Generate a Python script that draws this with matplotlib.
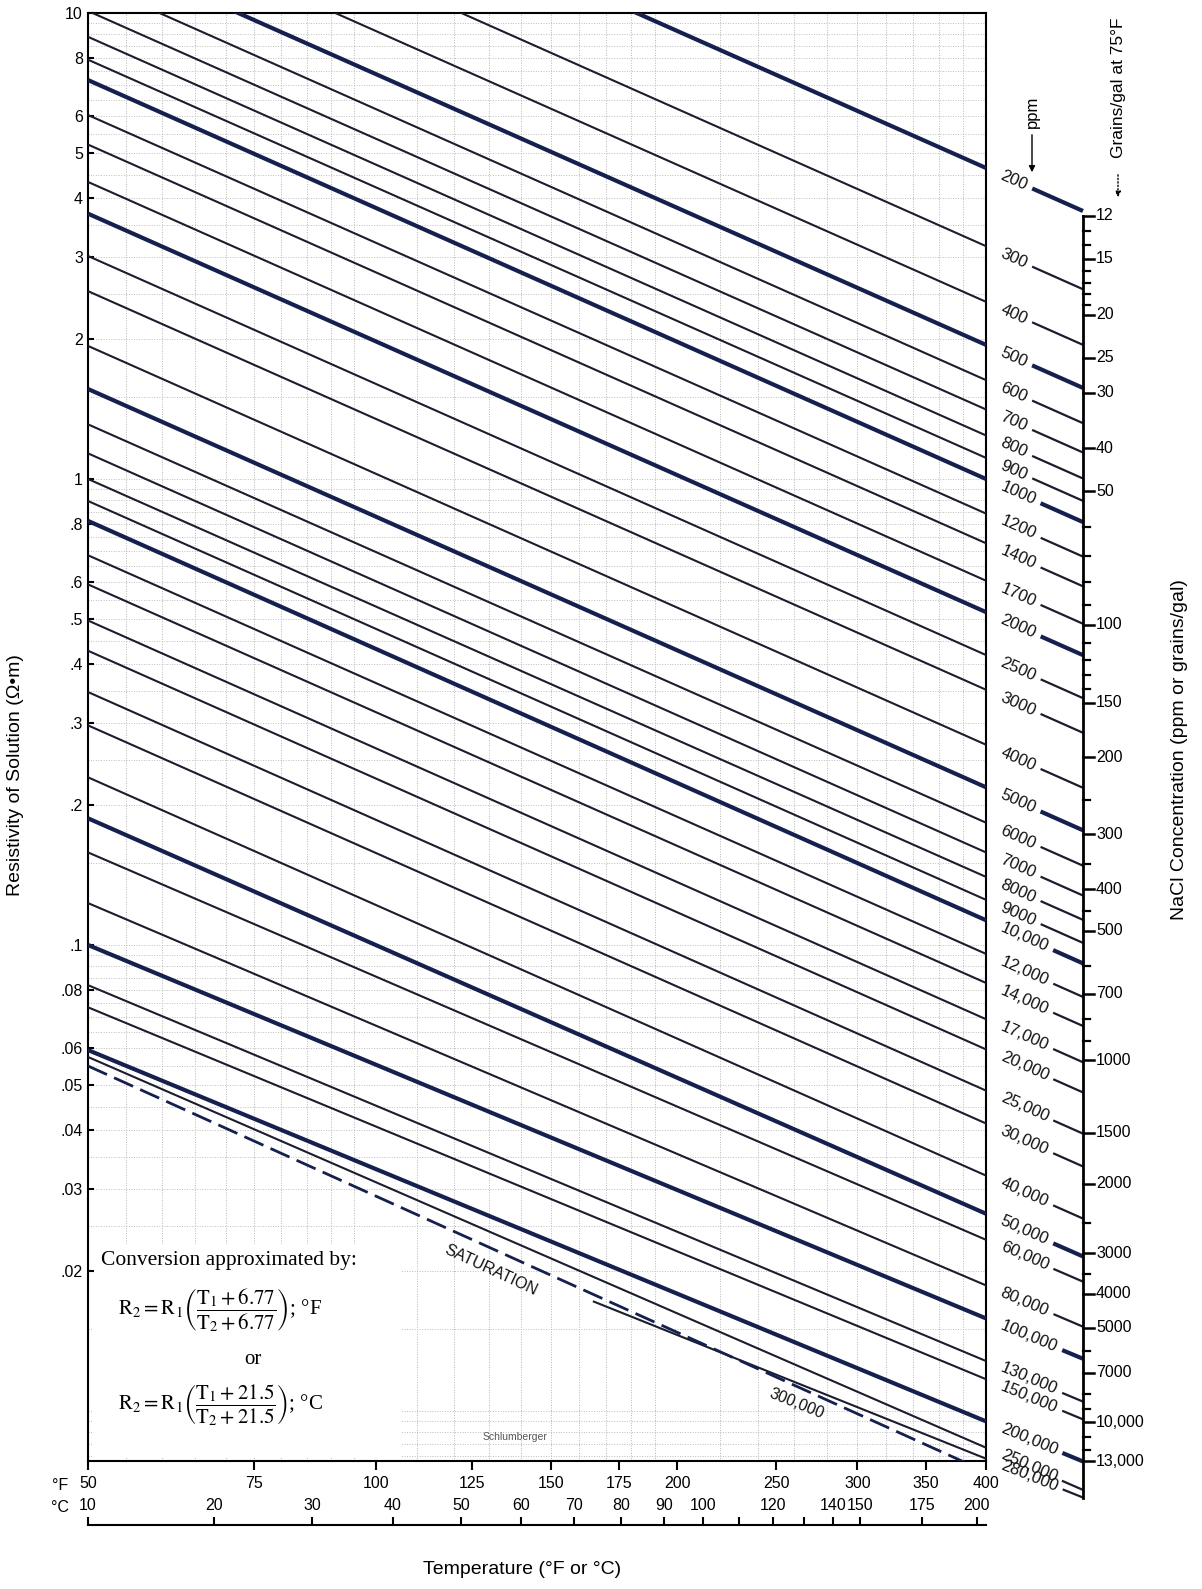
import numpy as np
import matplotlib
matplotlib.use("Agg")
import matplotlib.pyplot as plt
from matplotlib.patches import Rectangle, FancyArrowPatch
from matplotlib.lines import Line2D
from matplotlib.ticker import NullLocator

plt.rcParams['font.family'] = ['Liberation Sans', 'DejaVu Sans']
plt.rcParams['mathtext.fontset'] = 'stix'

# ---------------- data ----------------
ppm_values = [200, 300, 400, 500, 600, 700, 800, 900, 1000, 1200, 1400, 1700,
              2000, 2500, 3000, 4000, 5000, 6000, 7000, 8000, 9000, 10000,
              12000, 14000, 17000, 20000, 25000, 30000, 40000, 50000, 60000,
              80000, 100000, 130000, 150000, 200000, 250000, 280000]
ppm_labels = ["200", "300", "400", "500", "600", "700", "800", "900", "1000",
              "1200", "1400", "1700", "2000", "2500", "3000", "4000", "5000",
              "6000", "7000", "8000", "9000", "10,000", "12,000", "14,000",
              "17,000", "20,000", "25,000", "30,000", "40,000", "50,000",
              "60,000", "80,000", "100,000", "130,000", "150,000", "200,000",
              "250,000", "280,000"]
line_start_temp_f = [50, 50, 50, 50, 50, 50, 50, 50, 50, 50, 50, 50,
                     50, 50, 50, 50, 50, 50, 50, 50, 50, 50, 50, 50,
                     50, 50, 50, 50, 50, 50, 50, 50, 50, 50, 50, 50, 50, 165]
r_at_start = [33.3, 22.7, 17.2, 13.9, 11.7, 10.1, 8.89, 7.94, 7.18, 6.04, 5.22,
              4.34, 3.71, 3.01, 2.53, 1.93, 1.56, 1.31, 1.135, 1.00, 0.897,
              0.813, 0.686, 0.594, 0.497, 0.428, 0.349, 0.296, 0.229, 0.187,
              0.158, 0.123, 0.100, 0.082, 0.0735, 0.0595, 0.0575, 0.0172]
r_at_400f = [4.65, 3.16, 2.40, 1.94, 1.63, 1.41, 1.24, 1.11, 1.00, 0.843, 0.728,
             0.605, 0.518, 0.419, 0.353, 0.269, 0.218, 0.183, 0.158, 0.140,
             0.125, 0.113, 0.0957, 0.0829, 0.0693, 0.0597, 0.0487, 0.0414,
             0.0320, 0.0265, 0.0233, 0.0186, 0.0158, 0.0128, 0.0117, 0.0095,
             0.00834, 0.0079]
bold_ppm = [200, 500, 1000, 2000, 5000, 10000, 50000, 100000, 200000]

saturation_temp_f = [50, 400]
saturation_r = [0.0550, 0.0074]

temp_f_ticks = [50, 75, 100, 125, 150, 175, 200, 250, 300, 350, 400]
temp_c_ticks = [10, 20, 30, 40, 50, 60, 70, 80, 90, 100, 110, 120, 130, 140,
                150, 175, 200]
temp_c_labels = ["10", "20", "30", "40", "50", "60", "70", "80", "90", "100",
                 "", "120", "", "140", "150", "175", "200"]
r_ticks = [10, 8, 6, 5, 4, 3, 2, 1, 0.8, 0.6, 0.5, 0.4, 0.3, 0.2, 0.1, 0.08,
           0.06, 0.05, 0.04, 0.03, 0.02]
r_tick_labels = ["10", "8", "6", "5", "4", "3", "2", "1", ".8", ".6", ".5",
                 ".4", ".3", ".2", ".1", ".08", ".06", ".05", ".04", ".03", ".02"]

grains_major = [12, 15, 20, 25, 30, 40, 50, 100, 150, 200, 300, 400, 500, 700,
                1000, 1500, 2000, 3000, 4000, 5000, 7000, 10000, 13000]
grains_major_labels = ["12", "15", "20", "25", "30", "40", "50", "100", "150",
                       "200", "300", "400", "500", "700", "1000", "1500",
                       "2000", "3000", "4000", "5000", "7000", "10,000",
                       "13,000"]
grains_major_ppm = [205, 256, 342, 428, 513, 684, 855, 1710, 2560, 3410, 5100,
                    6780, 8450, 11800, 16800, 24900, 33000, 49000, 64800,
                    80500, 109000, 153000, 200000]
grains_minor = [13, 14, 16, 17, 18, 19, 60, 70, 80, 90, 110, 120, 130, 140,
                250, 350, 450, 600, 800, 900, 2500, 3500, 6000, 8000, 9000,
                11000, 12000]

# ---------------- layout helpers ----------------
W, H = 1202, 1589
def fx(px):
    return px / W
def fy(py):
    return 1 - py / H

THIN_C = '#1b1d2e'
BOLD_C = '#15204f'

def t_fwd(t):
    t = np.asarray(t, dtype=float)
    with np.errstate(invalid='ignore', divide='ignore'):
        return np.log10(t + 6.77)
def t_inv(u):
    return 10 ** np.asarray(u, dtype=float) - 6.77

def c_fwd(c):
    c = np.asarray(c, dtype=float)
    with np.errstate(invalid='ignore', divide='ignore'):
        return np.log10(c * 1.8 + 32 + 6.77)
def c_inv(u):
    return (10 ** np.asarray(u, dtype=float) - 6.77 - 32) / 1.8

fig = plt.figure(figsize=(W / 100, H / 100), dpi=100)
fig.patch.set_facecolor('white')

ax = fig.add_axes([fx(88), fy(1461), 898 / W, 1448 / H])
ax.set_yscale('log')
ax.set_xscale('function', functions=(t_fwd, t_inv))
RMIN, RMAX = 0.00781, 10
ax.set_xlim(50, 400)
ax.set_ylim(RMIN, RMAX)

# background dotted grid
grid_t = list(range(55, 100, 5)) + list(range(110, 200, 10)) + list(range(220, 400, 20))
ax.vlines(grid_t, RMIN, RMAX, colors='#b5b5b5', linestyles=(0, (1, 1.6)),
          lw=0.7, zorder=0)
grid_r = [m * 10.0 ** e for e in range(-3, 1) for m in np.arange(1.0, 10.0, 0.5)]
grid_r = [g for g in grid_r if RMIN < g < RMAX]
ax.hlines(grid_r, 50, 400, colors='#bdbdbd', linestyles=(0, (1, 1.6)),
          lw=0.7, zorder=0)

# white panel behind the conversion formula
ax.add_patch(Rectangle((0.004, 0.002), 0.345, 0.148, transform=ax.transAxes,
                       facecolor='white', edgecolor='none', zorder=1))

# concentration lines
for i, ppm in enumerate(ppm_values):
    bold = ppm in bold_ppm
    ax.plot([line_start_temp_f[i], 400], [r_at_start[i], r_at_400f[i]],
            color=BOLD_C if bold else THIN_C, lw=3.0 if bold else 1.5,
            solid_capstyle='butt', zorder=3)

# saturation line
ax.plot(saturation_temp_f, saturation_r, color=BOLD_C, lw=2.0,
        dashes=(7.5, 2.8), zorder=3)

# axes styling
for s in ax.spines.values():
    s.set_linewidth(1.5)
    s.set_color('black')
ax.set_xticks(temp_f_ticks)
ax.set_xticklabels([str(t) for t in temp_f_ticks])
ax.xaxis.set_minor_locator(NullLocator())
ax.set_yticks(r_ticks)
ax.set_yticklabels(r_tick_labels)
ax.yaxis.set_minor_locator(NullLocator())
ax.tick_params(axis='x', direction='out', length=6.5, width=1.5, pad=4.5,
               labelsize=11.5)
ax.tick_params(axis='y', direction='in', length=4.5, width=1.5, pad=3.6,
               labelsize=11.5)

# Celsius scale
axc = fig.add_axes([fx(88), fy(1525), 898 / W, 0.0001])
axc.set_xscale('function', functions=(c_fwd, c_inv))
axc.set_xlim(10, (400 - 32) / 1.8)
axc.patch.set_visible(False)
for s in ['left', 'right', 'bottom']:
    axc.spines[s].set_visible(False)
axc.spines['top'].set_linewidth(1.5)
axc.yaxis.set_visible(False)
axc.xaxis.set_ticks_position('top')
axc.set_xticks(temp_c_ticks)
axc.set_xticklabels(temp_c_labels)
axc.xaxis.set_minor_locator(NullLocator())
axc.tick_params(axis='x', direction='out', length=6.0, width=1.5, pad=2.5,
                labelsize=11.5, top=True, bottom=False, labeltop=True,
                labelbottom=False)

fig.text(fx(60), fy(1485), "°F", fontsize=11.5, ha='center', va='center')
fig.text(fx(60), fy(1508), "°C", fontsize=11.5, ha='center', va='center')

# ---------------- right-hand nomograph ----------------
renderer = fig.canvas.get_renderer()
to_data = ax.transData.inverted()
x_label_disp = ax.transAxes.transform((1.017, 0))[0]
x_axis_disp = ax.transAxes.transform((1.108, 0))[0]
ends_y = []
for i, ppm in enumerate(ppm_values):
    bold = ppm in bold_ppm
    p0 = ax.transData.transform((line_start_temp_f[i], r_at_start[i]))
    p1 = ax.transData.transform((400, r_at_400f[i]))
    slope = (p1[1] - p0[1]) / (p1[0] - p0[0])
    ang = np.degrees(np.arctan(slope))
    yl = p1[1] + slope * (x_label_disp - p1[0])
    tx, ty = to_data.transform((x_label_disp, yl))
    t = ax.text(tx, ty, ppm_labels[i], rotation=ang, rotation_mode='anchor',
                ha='left', va='center', fontsize=12, clip_on=False,
                color='#111111')
    w, h, d = renderer.get_text_width_height_descent(
        ppm_labels[i], t.get_fontproperties(), ismath=False)
    xs = x_label_disp + (w + 6) * np.cos(np.radians(ang))
    ys = p1[1] + slope * (xs - p1[0])
    ye = p1[1] + slope * (x_axis_disp - p1[0])
    ends_y.append(ye)
    fig.add_artist(Line2D([xs / W, x_axis_disp / W], [ys / H, ye / H],
                          transform=fig.transFigure,
                          color=BOLD_C if bold else THIN_C,
                          lw=3.0 if bold else 1.6, solid_capstyle='butt'))

ends_y = np.array(ends_y)
log_ppm = np.log10(ppm_values)

def y_for_ppm(p):
    return np.interp(np.log10(p), log_ppm, ends_y)

minor_ppm = 10 ** np.interp(np.log10(grains_minor), np.log10(grains_major),
                            np.log10(grains_major_ppm))

y_top = y_for_ppm(grains_major_ppm[0])
y_bot = ends_y[-1]
fig.add_artist(Line2D([x_axis_disp / W] * 2, [y_top / H, y_bot / H],
                      transform=fig.transFigure, color='black', lw=2.0))
for g, lab, p in zip(grains_major, grains_major_labels, grains_major_ppm):
    yy = y_for_ppm(p)
    fig.add_artist(Line2D([x_axis_disp / W, (x_axis_disp + 11) / W],
                          [yy / H, yy / H], transform=fig.transFigure,
                          color='black', lw=1.8))
    fig.text((x_axis_disp + 13) / W, yy / H, lab, fontsize=11.5,
             ha='left', va='center')
for p in minor_ppm:
    yy = y_for_ppm(p)
    fig.add_artist(Line2D([x_axis_disp / W, (x_axis_disp + 7) / W],
                          [yy / H, yy / H], transform=fig.transFigure,
                          color='black', lw=1.6))

# headers of the nomograph
fig.text(fx(1032), fy(112), "ppm", rotation=90, fontsize=12,
         ha='center', va='center')
fig.add_artist(FancyArrowPatch((fx(1032), fy(132)), (fx(1032), fy(175)),
                               transform=fig.transFigure, arrowstyle='-|>',
                               mutation_scale=9, lw=1.0, color='black'))
fig.text(fx(1118), fy(88), "Grains/gal at 75°F", rotation=90, fontsize=12.5,
         ha='center', va='center')
fig.add_artist(FancyArrowPatch((fx(1118), fy(172)), (fx(1118), fy(200)),
                               transform=fig.transFigure, arrowstyle='-|>',
                               mutation_scale=8, lw=1.0, color='black',
                               linestyle=(0, (1, 1.5))))

# ---------------- titles / annotations ----------------
fig.text(fx(16), fy(775), "Resistivity of Solution (Ω•m)", rotation=90,
         fontsize=14, ha='center', va='center')
fig.text(fx(1180), fy(750), "NaCl Concentration (ppm or grains/gal)",
         rotation=90, fontsize=14, ha='center', va='center')
fig.text(fx(522), fy(1569), "Temperature (°F or °C)", fontsize=14,
         ha='center', va='center')

fig.text(fx(491), fy(1270), "SATURATION", rotation=-25, fontsize=11.5,
         ha='center', va='center', color='#111111')
fig.text(fx(797), fy(1404), "300,000", rotation=-22, fontsize=11.5,
         ha='center', va='center', color='#111111')
fig.text(fx(515), fy(1437), "Schlumberger", fontsize=7.5, ha='center',
         va='center', color='#555555')

serif = ['Liberation Serif', 'DejaVu Serif']
fig.text(fx(101), fy(1261), "Conversion approximated by:", family=serif,
         fontsize=15.5, ha='left', va='center')
fig.text(fx(118), fy(1310),
         r"$\mathrm{R}_2 = \mathrm{R}_1\left(\dfrac{\mathrm{T}_1 + 6.77}{\mathrm{T}_2 + 6.77}\right)$; °F",
         family=serif, fontsize=15, ha='left', va='center')
fig.text(fx(253), fy(1360), "or", family=serif, fontsize=15, ha='center',
         va='center')
fig.text(fx(118), fy(1405),
         r"$\mathrm{R}_2 = \mathrm{R}_1\left(\dfrac{\mathrm{T}_1 + 21.5}{\mathrm{T}_2 + 21.5}\right)$; °C",
         family=serif, fontsize=15, ha='left', va='center')

fig.savefig("out.png", dpi=100, facecolor='white')
